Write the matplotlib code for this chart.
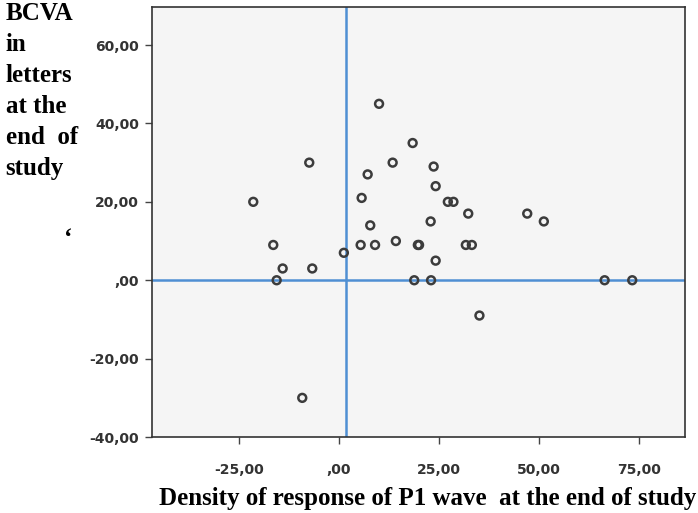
import matplotlib
matplotlib.use("Agg")
import matplotlib.pyplot as plt

# P1 wave response density (x) vs BCVA change in letters (y)
density_p1 = [10.1, -7.35, -21.35, 18.5, 13.5, 7.25, 23.75, 24.25, 5.75,
              27.3, 28.7, 32.4, 47.15, 51.3, 23.0, 7.9, -16.35, 5.5, 9.1,
              14.3, 19.8, 20.1, 31.8, 33.3, 1.3, -14.0, -6.6, 24.25,
              -15.5, 18.9, 23.1, 66.5, 73.4, 35.2, -9.1]
bcva_letters = [45, 30, 20, 35, 30, 27, 29, 24, 21,
                20, 20, 17, 17, 15, 15, 14, 9, 9, 9,
                10, 9, 9, 9, 9, 7, 3, 3, 5,
                0, 0, 0, 0, 0, -9, -30]

x_ticks = [-25, 0, 25, 50, 75]
x_tick_labels = ["-25,00", ",00", "25,00", "50,00", "75,00"]
y_ticks = [-40, -20, 0, 20, 40, 60]
y_tick_labels = ["-40,00", "-20,00", ",00", "20,00", "40,00", "60,00"]
ref_x = 1.8
ref_y = 0

fig = plt.figure(figsize=(6.98, 5.13), dpi=100)
ax = fig.add_axes([0.2173, 0.148, 0.7641, 0.8384])
ax.set_facecolor("#f5f5f5")

ax.scatter(density_p1, bcva_letters, s=32, facecolors="none",
           edgecolors="#3c3c3c", linewidths=1.8, zorder=3)
ax.axvline(ref_x, color="#4f8fd3", lw=1.8, zorder=2)
ax.axhline(ref_y, color="#4f8fd3", lw=1.8, zorder=2)

ax.set_xlim(-46.75, 86.6)
ax.set_ylim(-40, 69.7)
ax.set_xticks(x_ticks)
ax.set_xticklabels(x_tick_labels)
ax.set_yticks(y_ticks)
ax.set_yticklabels(y_tick_labels)

tick_font = dict(family=["Liberation Sans Narrow", "DejaVu Sans"], size=10,
                 color="#333333", weight="bold")
for lab in ax.get_xticklabels() + ax.get_yticklabels():
    lab.set(**tick_font)
ax.tick_params(length=5, width=1, color="#444444")
ax.tick_params(axis="x", pad=14)
ax.tick_params(axis="y", pad=4)
for sp in ax.spines.values():
    sp.set_color("#333333")
    sp.set_linewidth(1.2)

label_font = dict(family="Liberation Serif", weight="bold", size=18,
                  color="black")
fig.text(0.997, 0.016, "Density of response of P1 wave  at the end of study",
         ha="right", va="baseline", **label_font)
fig.text(0.008, 0.997, "BCVA\nin\nletters\nat the\nend  of\nstudy",
         ha="left", va="top", linespacing=1.45, **label_font)
fig.text(0.097, 0.535, "\u2018", ha="center", va="center", **label_font)

fig.savefig("out.png", dpi=100)
